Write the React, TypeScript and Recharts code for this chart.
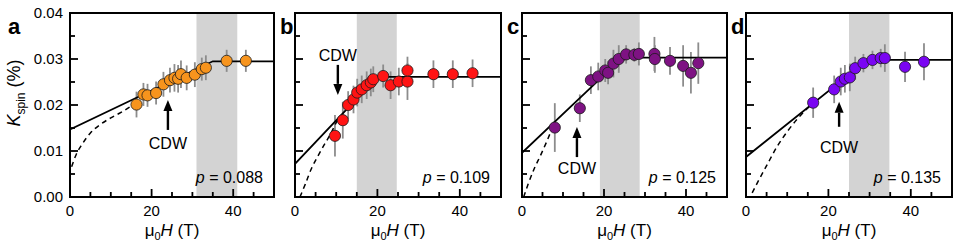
import React from 'react';
import {
  ComposedChart,
  XAxis,
  YAxis,
  Scatter,
  Line,
  ErrorBar,
  ReferenceArea,
  ReferenceDot,
} from 'recharts';

const FONT = '"Liberation Sans", Arial, Helvetica, sans-serif';
const CHART_W = 955;
const CHART_H = 251;
const PLOT_TOP = 13;
const PLOT_BOTTOM = 197;
const AXIS_H = 30;
const AXIS_W = 40;

const X_TICKS = [0, 5, 10, 15, 20, 25, 30, 35, 40, 45, 50];
const Y_TICKS = [0, 0.005, 0.01, 0.015, 0.02, 0.025, 0.03, 0.035, 0.04];

// ---- Panel a (p = 0.088)
const aField = [16.3, 18.0, 19.0, 21.1, 22.9, 24.5, 25.6, 26.5, 27.2, 28.6, 30.6, 32.3, 33.3, 38.4, 43.1];
const aK = [0.0201, 0.0223, 0.0221, 0.0226, 0.0245, 0.0254, 0.0259, 0.0257, 0.0267, 0.0259, 0.0266, 0.0278, 0.0281, 0.0296, 0.0296];
const aErr = [0.0028, 0.0025, 0.0025, 0.0025, 0.0027, 0.0027, 0.003, 0.003, 0.003, 0.0027, 0.0027, 0.0025, 0.0027, 0.0024, 0.0024];
const aSolidH = [0, 35, 50];
const aSolidK = [0.0147, 0.0295, 0.0295];
const aDashH = [0.4, 1.5, 3, 5, 7.5, 10, 12.5, 15, 18];
const aDashK = [0.0066, 0.0092, 0.0115, 0.0139, 0.0158, 0.0172, 0.0184, 0.0198, 0.0223];

// ---- Panel b (p = 0.109)
const bField = [9.7, 11.6, 12.9, 14.2, 15.1, 16.2, 17.4, 18.4, 19.0, 21.4, 23.2, 25.2, 27.3, 27.3, 33.6, 38.3, 43.1];
const bK = [0.0133, 0.0167, 0.0200, 0.0212, 0.0227, 0.0234, 0.0243, 0.0249, 0.0256, 0.0263, 0.0243, 0.0251, 0.0251, 0.0275, 0.0267, 0.0267, 0.0269];
const bErr = [0.0045, 0.004, 0.003, 0.003, 0.003, 0.003, 0.003, 0.003, 0.0028, 0.0025, 0.003, 0.003, 0.004, 0.003, 0.003, 0.003, 0.003];
const bSolidH = [0, 20, 50];
const bSolidK = [0.0072, 0.0261, 0.0261];
const bDashH = [1.2, 2.5, 4, 5.5, 7, 8.5, 10.5];
const bDashK = [0.0, 0.0028, 0.0062, 0.0088, 0.0112, 0.0135, 0.0171];

// ---- Panel c (p = 0.125)
const cField = [8.0, 14.1, 16.8, 18.6, 20.3, 21.0, 22.3, 23.6, 25.4, 27.4, 28.5, 32.3, 32.4, 36.1, 39.3, 41.2, 43.0];
const cK = [0.0151, 0.0193, 0.0254, 0.0262, 0.0275, 0.0270, 0.0290, 0.0300, 0.0310, 0.0309, 0.0311, 0.0311, 0.0300, 0.0296, 0.0285, 0.0270, 0.0291];
const cErr = [0.0053, 0.003, 0.003, 0.003, 0.0025, 0.0025, 0.003, 0.003, 0.002, 0.0015, 0.0025, 0.0037, 0.003, 0.003, 0.0045, 0.0045, 0.0045];
const cSolidH = [0, 22.5, 24.5, 26.5, 50];
const cSolidK = [0.0096, 0.0286, 0.0298, 0.0303, 0.0303];
const cDashH = [0.4, 1.5, 3, 4.5, 6, 8];
const cDashK = [0.0, 0.0028, 0.0062, 0.0090, 0.0120, 0.0163];

// ---- Panel d (p = 0.135)
const dField = [16.3, 21.4, 23.0, 24.0, 25.2, 26.5, 28.5, 30.7, 32.7, 33.7, 38.6, 43.2];
const dK = [0.0205, 0.0234, 0.0251, 0.0257, 0.0260, 0.0280, 0.0291, 0.0298, 0.0302, 0.0302, 0.0283, 0.0294];
const dErr = [0.0033, 0.003, 0.003, 0.003, 0.003, 0.0025, 0.002, 0.002, 0.002, 0.003, 0.0033, 0.004];
const dSolidH = [0, 29.5, 50];
const dSolidK = [0.0087, 0.0298, 0.0298];
const dDashH = [1.5, 3, 5, 7.5, 10, 12.5, 15.5];
const dDashK = [0.0009, 0.0035, 0.0068, 0.0109, 0.0142, 0.0170, 0.0198];

const zipPts = (h: number[], k: number[], e?: number[]) =>
  h.map((v, i) => (e ? { h: v, k: k[i], err: e[i] } : { h: v, k: k[i] }));

type Panel = {
  letter: string;
  p: string;
  color: string;
  left: number;
  right: number;
  band: [number, number];
  pts: { h: number; k: number; err?: number }[];
  solid: { h: number; k: number }[];
  dash: { h: number; k: number }[];
  cdw: { h: number; k: number; dir: 'up' | 'down'; len: number; textGap: number };
  showYLabels: boolean;
};

const panels: Panel[] = [
  {
    letter: 'a', p: '0.088', color: '#F7941D', left: 70, right: 274, band: [31, 41],
    pts: zipPts(aField, aK, aErr), solid: zipPts(aSolidH, aSolidK), dash: zipPts(aDashH, aDashK),
    cdw: { h: 24, k: 0.0211, dir: 'up', len: 30, textGap: 49 }, showYLabels: true,
  },
  {
    letter: 'b', p: '0.109', color: '#FF1414', left: 295, right: 501, band: [15, 24.7],
    pts: zipPts(bField, bK, bErr), solid: zipPts(bSolidH, bSolidK), dash: zipPts(bDashH, bDashK),
    cdw: { h: 10.4, k: 0.0222, dir: 'down', len: 30, textGap: 34 }, showYLabels: false,
  },
  {
    letter: 'c', p: '0.125', color: '#7E1283', left: 522, right: 727, band: [19, 28.7],
    pts: zipPts(cField, cK, cErr), solid: zipPts(cSolidH, cSolidK), dash: zipPts(cDashH, cDashK),
    cdw: { h: 13.4, k: 0.0152, dir: 'up', len: 30, textGap: 47 }, showYLabels: false,
  },
  {
    letter: 'd', p: '0.135', color: '#7A05F2', left: 746, right: 952, band: [25, 34.8],
    pts: zipPts(dField, dK, dErr), solid: zipPts(dSolidH, dSolidK), dash: zipPts(dDashH, dDashK),
    cdw: { h: 22.6, k: 0.0207, dir: 'up', len: 25, textGap: 51 }, showYLabels: false,
  },
];

const XTick = (props: any) => {
  const { x, y, payload } = props;
  const v = payload.value as number;
  const major = v % 20 === 0;
  return (
    <g>
      {v !== 0 && v !== 50 && (
        <line x1={x} x2={x} y1={y} y2={y - (major ? 8 : 5)} stroke="#000" strokeWidth={1.8} />
      )}
      {major && (
        <text x={x} y={y + 19} textAnchor="middle" fontSize={15} fontFamily={FONT} fill="#000">
          {v}
        </text>
      )}
    </g>
  );
};

const makeYTick = (showLabel: boolean) => (props: any) => {
  const { x, y, payload } = props;
  const v = payload.value as number;
  const major = Math.abs(v * 100 - Math.round(v * 100)) < 1e-6;
  return (
    <g>
      {v !== 0 && v !== 0.04 && (
        <line x1={x} x2={x + (major ? 8 : 5)} y1={y} y2={y} stroke="#000" strokeWidth={1.8} />
      )}
      {showLabel && major && (
        <text x={x - 7} y={y} dy="0.36em" textAnchor="end" fontSize={15} fontFamily={FONT} fill="#000">
          {v.toFixed(2)}
        </text>
      )}
    </g>
  );
};

const makeDot = (color: string) => (props: any) => {
  const { cx, cy } = props;
  if (cx == null || cy == null) return <g />;
  return <circle cx={cx} cy={cy} r={5.6} fill={color} stroke="#1a1a1a" strokeWidth={0.8} />;
};

const makeArrow = (dir: 'up' | 'down', len: number, textGap: number) => (props: any) => {
  const { cx, cy } = props;
  const s = dir === 'up' ? 1 : -1;
  const headLen = 11;
  const headHalf = 4.5;
  const tail = cy + s * len;
  const headBase = cy + s * headLen;
  const textY = dir === 'up' ? cy + textGap : cy - textGap;
  return (
    <g>
      <line x1={cx} x2={cx} y1={headBase} y2={tail} stroke="#000" strokeWidth={2.4} />
      <polygon points={`${cx},${cy} ${cx - headHalf},${headBase} ${cx + headHalf},${headBase}`} fill="#000" />
      <text x={cx} y={textY} textAnchor="middle" fontSize={16} fontFamily={FONT} fill="#000">
        CDW
      </text>
    </g>
  );
};

const PanelChart = ({ pn }: { pn: Panel }) => (
  <div style={{ position: 'absolute', left: 0, top: 0 }}>
    <ComposedChart
      width={CHART_W}
      height={CHART_H}
      margin={{
        top: PLOT_TOP,
        bottom: CHART_H - PLOT_BOTTOM - AXIS_H,
        left: pn.left - AXIS_W,
        right: CHART_W - pn.right,
      }}
    >
      <XAxis
        type="number"
        dataKey="h"
        domain={[0, 50]}
        ticks={X_TICKS}
        interval={0}
        height={AXIS_H}
        tickSize={0}
        tickMargin={0}
        axisLine={false}
        tickLine={false}
        tick={XTick}
        allowDataOverflow
      />
      <YAxis
        type="number"
        dataKey="k"
        domain={[0, 0.04]}
        ticks={Y_TICKS}
        interval={0}
        width={AXIS_W}
        tickSize={0}
        tickMargin={0}
        axisLine={false}
        tickLine={false}
        tick={makeYTick(pn.showYLabels)}
        allowDataOverflow
      />
      <ReferenceArea x1={pn.band[0]} x2={pn.band[1]} y1={0} y2={0.04} fill="#D3D3D3" fillOpacity={1} stroke="none" />
      <Scatter data={pn.pts} dataKey="k" shape={makeDot(pn.color)} isAnimationActive={false}>
        <ErrorBar dataKey="err" direction="y" width={0} stroke="#8C8C8C" strokeWidth={1.8} />
      </Scatter>
      <Line data={pn.dash} dataKey="k" type="monotone" stroke="#000" strokeWidth={1.5} strokeDasharray="5 4" dot={false} isAnimationActive={false} />
      <Line data={pn.solid} dataKey="k" type="linear" stroke="#000" strokeWidth={1.8} dot={false} isAnimationActive={false} />
      <ReferenceArea x1={0} x2={50} y1={0} y2={0.04} fill="none" stroke="#000" strokeWidth={2} ifOverflow="visible" />
      <ReferenceDot x={pn.cdw.h} y={pn.cdw.k} ifOverflow="visible" shape={makeArrow(pn.cdw.dir, pn.cdw.len, pn.cdw.textGap)} />
    </ComposedChart>
  </div>
);

export default function App() {
  return (
    <div style={{ position: 'absolute', left: 0, top: 0, width: CHART_W, height: CHART_H, background: '#fff', overflow: 'hidden' }}>
      {panels.map((pn) => (
        <PanelChart key={pn.letter} pn={pn} />
      ))}
      <svg width={CHART_W} height={CHART_H} style={{ position: 'absolute', left: 0, top: 0, pointerEvents: 'none' }}>
        <g fontFamily={FONT} fill="#000">
          <text transform="translate(20,93) rotate(-90)" textAnchor="middle" fontSize={18}>
            <tspan fontStyle="italic">K</tspan>
            <tspan fontSize={12} dy={5}>spin</tspan>
            <tspan dy={-5}> (%)</tspan>
          </text>
          {panels.map((pn) => (
            <g key={pn.letter}>
              <text x={pn.left - (pn.letter === 'a' ? 62 : 15)} y={34} fontSize={22} fontWeight="bold">
                {pn.letter}
              </text>
              <text x={pn.right - 11} y={183} textAnchor="end" fontSize={16}>
                <tspan fontStyle="italic">p</tspan> = {pn.p}
              </text>
              <text x={(pn.left + pn.right) / 2} y={236} textAnchor="middle" fontSize={17}>
                μ<tspan fontSize={11} dy={4}>0</tspan>
                <tspan dy={-4} fontStyle="italic">H</tspan> (T)
              </text>
            </g>
          ))}
        </g>
      </svg>
    </div>
  );
}
